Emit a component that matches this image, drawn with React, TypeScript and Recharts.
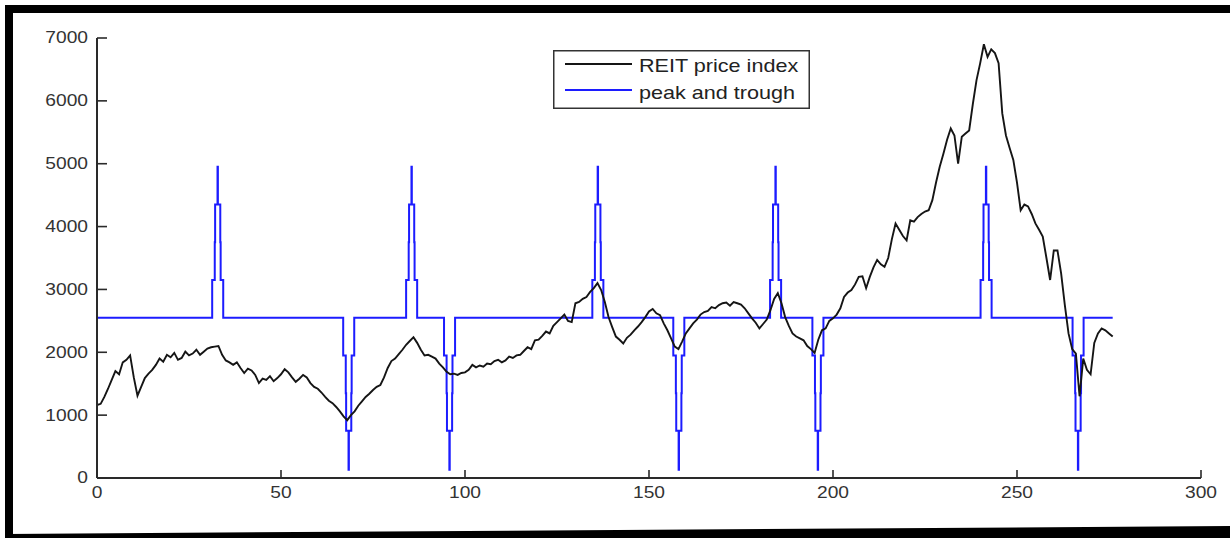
import { LineChart, Line, XAxis, YAxis, Legend } from 'recharts'

// REIT price index, one value per period (0..276)
const reitPrice = [
  1160, 1180, 1290, 1420, 1560, 1700, 1650, 1840, 1880, 1950,
  1600, 1310, 1450, 1590, 1660, 1720, 1800, 1900, 1850, 1960,
  1920, 1990, 1880, 1910, 2010, 1950, 1980, 2040, 1960, 2010,
  2060, 2080, 2090, 2100, 1960, 1870, 1840, 1800, 1840, 1750,
  1670, 1740, 1710, 1640, 1510, 1580, 1560, 1620, 1540, 1590,
  1650, 1730, 1680, 1600, 1530, 1580, 1640, 1600, 1510, 1450,
  1420, 1360, 1290, 1230, 1190, 1130, 1060, 980, 920, 1000,
  1060, 1150, 1220, 1290, 1340, 1400, 1450, 1480, 1600, 1750,
  1860, 1900, 1970, 2040, 2120, 2180, 2240, 2150, 2040, 1950,
  1960, 1930, 1900, 1820, 1760, 1690, 1650, 1660, 1640, 1670,
  1680, 1720, 1800, 1760, 1790, 1770, 1820, 1810, 1860, 1880,
  1840, 1870, 1930, 1910, 1950, 1960, 2020, 2080, 2050, 2190,
  2200, 2260, 2330, 2300, 2420, 2480, 2540, 2600, 2500, 2480,
  2780, 2800, 2850, 2880, 2960, 3020, 3100, 2990, 2800, 2560,
  2400, 2250, 2200, 2140, 2230, 2280, 2350, 2410, 2480, 2560,
  2650, 2690, 2620, 2590, 2460, 2350, 2220, 2090, 2050, 2170,
  2300, 2380, 2460, 2520, 2600, 2640, 2660, 2720, 2700, 2750,
  2780, 2790, 2740, 2800, 2780, 2760, 2700, 2620, 2540, 2470,
  2380, 2450, 2520, 2670, 2850, 2940, 2780, 2560, 2420, 2300,
  2250, 2220, 2190, 2100, 2050, 1990, 2200, 2350, 2380, 2500,
  2540, 2600, 2700, 2880, 2950, 2990, 3080, 3200, 3210, 3020,
  3200, 3350, 3470, 3400, 3360, 3500, 3800, 4050, 3950, 3850,
  3780, 4100, 4080, 4150, 4200, 4240, 4260, 4420, 4700, 4950,
  5160, 5380, 5560, 5450, 5000, 5430, 5480, 5530, 5950, 6330,
  6600, 6900, 6700, 6820, 6760, 6600, 5800, 5450, 5250, 5060,
  4700, 4260, 4350, 4320, 4200, 4050, 3950, 3840, 3500, 3150,
  3620, 3620, 3250, 2750, 2300, 2050, 1980, 1300, 1900, 1720,
  1650, 2150, 2300, 2380, 2350, 2300, 2250,
]

// peak / trough indicator
const peakIdx = [32.8, 85.5, 136.1, 184.4, 241.6]
const troughIdx = [68.4, 95.8, 158.1, 195.9, 266.6]
const baseLevel = 2550
const peakLevels = [3150, 3750, 4350, 4950]
const troughLevels = [1950, 1350, 750, 130]
const stepHalfWidth = [1.5, 0.8, 0.7, 0.05]
const seriesEnd = 276

const xTicks = [0, 50, 100, 150, 200, 250, 300]
const yTicks = [0, 1000, 2000, 3000, 4000, 5000, 6000, 7000]

const BLACK = '#151515'
const BLUE = '#1c1cff'
const AXIS = '#2a2a2a'
const FONT = '"Liberation Sans", Arial, sans-serif'

const reitData = reitPrice.map((y, x) => ({ x, y }))

function spike(c: number, levels: number[]) {
  const pts: { x: number; y: number }[] = []
  levels.forEach((lv, k) => {
    pts.push({ x: c - stepHalfWidth[k], y: k === 0 ? baseLevel : levels[k - 1] })
    pts.push({ x: c - stepHalfWidth[k], y: lv })
  })
  for (let k = levels.length - 1; k >= 0; k--) {
    pts.push({ x: c + stepHalfWidth[k], y: levels[k] })
    pts.push({ x: c + stepHalfWidth[k], y: k === 0 ? baseLevel : levels[k - 1] })
  }
  return pts
}

const events = [
  ...peakIdx.map(c => ({ c, levels: peakLevels })),
  ...troughIdx.map(c => ({ c, levels: troughLevels })),
].sort((a, b) => a.c - b.c)

const signalData = [
  { x: 0, y: baseLevel },
  ...events.flatMap(e => spike(e.c, e.levels)),
  { x: seriesEnd, y: baseLevel },
]

const XTick = (p: any) => (
  <g>
    <line x1={p.x} y1={p.y} x2={p.x} y2={p.y - 8} stroke={AXIS} strokeWidth={1.6} />
    <text
      transform={`translate(${p.x},${p.y + 15}) scale(1.2,1)`}
      textAnchor="middle"
      dominantBaseline="central"
      fontFamily={FONT}
      fontSize={16}
      fill="#333"
    >
      {p.payload.value}
    </text>
  </g>
)

const YTick = (p: any) => (
  <g>
    <line x1={p.x} y1={p.y} x2={p.x + 10} y2={p.y} stroke={AXIS} strokeWidth={1.6} />
    <text
      transform={`translate(${p.x - 9},${p.y}) scale(1.2,1)`}
      textAnchor="end"
      dominantBaseline="central"
      fontFamily={FONT}
      fontSize={16}
      fill="#333"
    >
      {p.payload.value}
    </text>
  </g>
)

const LegendBox = () => (
  <svg width={257} height={59} style={{ display: 'block' }}>
    <rect x={0.75} y={0.75} width={255.5} height={57.5} fill="#fff" stroke="#333" strokeWidth={1.5} />
    <line x1={12} y1={14} x2={79} y2={14} stroke={BLACK} strokeWidth={1.8} />
    <text transform="translate(86,22) scale(1.2,1)" fontFamily={FONT} fontSize={18} fill="#222">
      REIT price index
    </text>
    <line x1={12} y1={40} x2={79} y2={40} stroke={BLUE} strokeWidth={2} />
    <text transform="translate(86,49) scale(1.2,1)" fontFamily={FONT} fontSize={18} fill="#222">
      peak and trough
    </text>
  </svg>
)

export default function App() {
  return (
    <div style={{ position: 'fixed', left: 0, top: 0, width: 1230, height: 538, background: '#fff', overflow: 'hidden' }}>
      <LineChart width={1230} height={538} margin={{ top: 38, right: 29, bottom: 20, left: 0 }}>
        <XAxis
          type="number"
          dataKey="x"
          domain={[0, 300]}
          ticks={xTicks}
          interval={0}
          height={40}
          tickSize={0}
          tickMargin={0}
          tick={XTick}
          axisLine={{ stroke: AXIS, strokeWidth: 2 }}
          allowDataOverflow
        />
        <YAxis
          type="number"
          domain={[0, 7000]}
          ticks={yTicks}
          interval={0}
          width={97}
          tickSize={0}
          tickMargin={0}
          tick={YTick}
          axisLine={{ stroke: AXIS, strokeWidth: 2 }}
          allowDataOverflow
        />
        <Legend
          layout="horizontal"
          verticalAlign="middle"
          align="center"
          content={LegendBox}
          wrapperStyle={{ left: 553, top: 50, width: 257, height: 59 }}
        />
        <Line
          data={signalData}
          dataKey="y"
          name="peak and trough"
          type="linear"
          stroke={BLUE}
          strokeWidth={2}
          dot={false}
          activeDot={false}
          isAnimationActive={false}
        />
        <Line
          data={reitData}
          dataKey="y"
          name="REIT price index"
          type="linear"
          stroke={BLACK}
          strokeWidth={1.9}
          dot={false}
          activeDot={false}
          isAnimationActive={false}
        />
      </LineChart>
      <div style={{ position: 'absolute', left: 5, top: 5, width: 1225, height: 8, background: '#000' }} />
      <div style={{ position: 'absolute', left: 5, top: 5, width: 8, height: 533, background: '#000' }} />
      <div
        style={{
          position: 'absolute',
          left: 5,
          top: 524,
          width: 1225,
          height: 14,
          background: '#000',
          clipPath: 'polygon(0 10px, 100% 2px, 100% 100%, 0 100%)',
        }}
      />
    </div>
  )
}
